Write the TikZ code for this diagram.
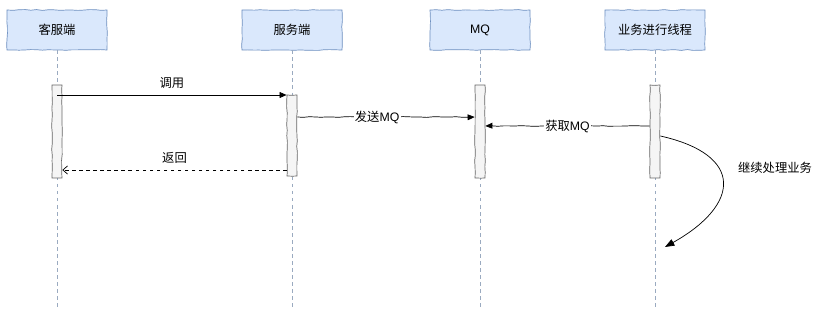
\documentclass[tikz,border=0pt]{standalone}
\usepackage{fontspec}
\setmainfont{Noto Sans CJK SC}
\newfontfamily\latinsf{Liberation Sans}
\usepackage{tikz}
\usetikzlibrary{calc,arrows.meta,decorations.pathmorphing}

\definecolor{headfill}{HTML}{DAE8FC}
\definecolor{headline}{HTML}{6C8EBF}
\definecolor{barfill}{HTML}{F5F5F5}
\definecolor{barline}{HTML}{666666}
\definecolor{lifeline}{HTML}{9AAAC0}

\begin{document}
\begin{tikzpicture}[x=0.03cm, y=-0.03cm,
    font=\fontsize{10.5}{12}\selectfont, line width=0.6pt,
    sketch/.style={decorate, decoration={random steps, segment length=5pt,
        amplitude=0.35pt}},
    head/.style={draw=headline, fill=headfill, minimum width=3cm,
      minimum height=1.2cm, inner sep=0pt, sketch},
    bar/.style={draw=barline, fill=barfill, minimum width=0.3cm, inner sep=0pt,
      sketch},
    life/.style={draw=lifeline, dashed, thin},
    msg/.style={draw=black, -{Triangle[length=6pt,width=5pt]}},
    ret/.style={draw=black, dashed, -{Straight Barb[length=4pt,width=7pt]}},
    lbl/.style={fill=white, inner sep=1pt}]
    \pgfmathsetseed{7}
    \useasboundingbox (0,0) rectangle (819,321);

    % 顶部参与者
    \node[head] (cli) at (57,30) {客服端};
    \node[head] (srv) at (292,30) {服务端};
    \node[head] (mq) at (480,30) {\latinsf MQ};
    \node[head] (biz) at (655,30) {业务进行线程};

    % 生命线
    \foreach \p in {cli,srv,mq,biz}
      \draw[life] (\p.south) -- (\p.south |- 0,310);

    % 激活条
    \node[bar, minimum height=2.79cm] (clibar) at (57,131.5) {};
    \node[bar, minimum height=2.43cm] (srvbar) at (292,135.5) {};
    \node[bar, minimum height=2.79cm] (mqbar) at (480,131.5) {};
    \node[bar, minimum height=2.79cm] (bizbar) at (655,131.5) {};

    % 消息端点
    \coordinate (call) at (57,95);
    \coordinate (send) at ($(srvbar.east |- 0,117)$);
    \coordinate (fetch) at ($(bizbar.west |- 0,126)$);
    \coordinate (back) at ($(srvbar.west |- 0,170)$);
    \coordinate (goon) at ($(bizbar.east |- 0,136)$);
    \coordinate (goend) at (665,247);

    % 消息
    \draw[msg] (call) -- (call -| srvbar.west)
      node[midway, above=2pt] {调用};
    \draw[ret] (back) -- (back -| clibar.east)
      node[midway, above=2pt] {返回};
    \draw[msg, sketch] (send) -- (send -| mqbar.west)
      node[lbl, pos=0.45] {发送\latinsf MQ};
    \draw[msg, sketch] (fetch) -- (fetch -| mqbar.east)
      node[lbl, pos=0.5] {获取\latinsf MQ};

    % 自调用
    \draw[-{Triangle[length=8pt,width=6pt]}] (goon)
      .. controls (745,155) and (740,205) .. (goend);
    \node (goonlbl) at (775,168) {继续处理业务};
  \end{tikzpicture}
\end{document}
